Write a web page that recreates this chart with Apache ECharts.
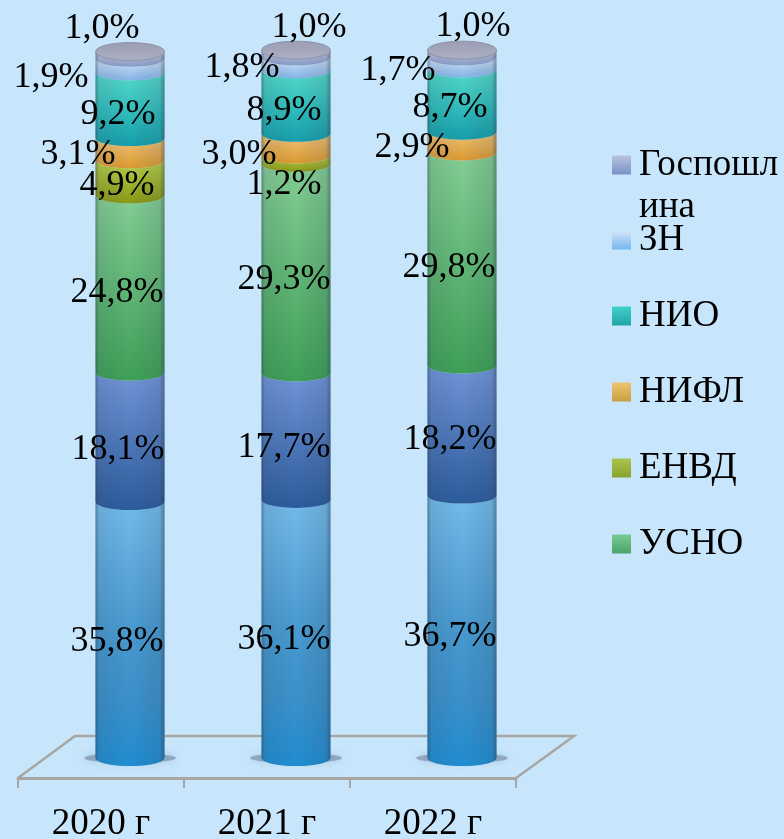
<!DOCTYPE html>
<html>
<head>
<meta charset="utf-8">
<style>
  html, body { margin: 0; padding: 0; background: #c7e6fc; }
  #chart { width: 784px; height: 839px; }
</style>
<script src="https://cdn.jsdelivr.net/npm/echarts@6/dist/echarts.min.js"></script>
</head>
<body>
<div id="chart"></div>
<script>
const years = ['2020 г', '2021 г', '2022 г'];

// снизу вверх; у двух нижних рядов в легенде подписи нет
const seriesNames = ['Ряд 1', 'Ряд 2', 'УСНО', 'ЕНВД', 'НИФЛ', 'НИО', 'ЗН', 'Госпошлина'];
const row1 = [35.8, 36.1, 36.7];
const row2 = [18.1, 17.7, 18.2];
const usno = [24.8, 29.3, 29.8];
const envd = [4.9, 1.2, null];
const nifl = [3.1, 3.0, 2.9];
const nio = [9.2, 8.9, 8.7];
const zn = [1.9, 1.8, 1.7];
const gosp = [1.0, 1.0, 1.0];
const rows = [row1, row2, usno, envd, nifl, nio, zn, gosp];

// цвет сегмента сверху вниз
const segColors = [
  ['#74bfee', '#5eabe0', '#479bd2', '#3c92cd', '#1f8fd4'],
  ['#7297dc', '#2c5c9e'],
  ['#86d196', '#3ea257'],
  ['#bcd64c', '#8b9a14'],
  ['#f2c677', '#e09c30'],
  ['#57dccb', '#33c2c0', '#16a0ac'],
  ['#d8eafc', '#86b6ea'],
  ['#c8d1ea', '#8c9dca']
];
const legendColors = [
  null,
  null,
  ['#78c992', '#4ca46b'],
  ['#abc44e', '#86a42d'],
  ['#edc66e', '#c89f3f'],
  ['#42d1c9', '#1ea5a6'],
  ['#d3e5f8', '#76b7ee'],
  ['#b8c2de', '#7a92c7']
];

// ручные смещения подписей от середины сегмента, [dx, dy] по годам
const labelShift = [
  [[-13, 12], [-12, 11], [-12, 10]],
  [[-12, 12], [-12, 11], [-12, 9]],
  [[-13, 9], [-12, 11], [-13, 9]],
  [[-13, 8], [-12, 25], [0, 0]],
  [[-52, 5], [-57, 10], [-50, 6]],
  [[-12, 9], [-12, 9], [-12, 7]],
  [[-79, 12], [-54, 4], [-64, 7]],
  [[-28, -27], [13, -26], [11, -27]]
];

const FONT = '"Liberation Serif", "Times New Roman", serif';
const barRatio = 69 / 166;
const ry = 8;

const vGrad = (c) => ({
  type: 'linear', x: 0, y: 0, x2: 0, y2: 1,
  colorStops: c.map((color, i) => ({ offset: i / (c.length - 1), color }))
});
const sideShade = {
  type: 'linear', x: 0, y: 0, x2: 1, y2: 0,
  colorStops: [
    { offset: 0, color: 'rgba(45,60,80,0.5)' },
    { offset: 0.05, color: 'rgba(45,60,80,0.14)' },
    { offset: 0.5, color: 'rgba(45,60,80,0.02)' },
    { offset: 0.93, color: 'rgba(45,60,80,0.16)' },
    { offset: 1, color: 'rgba(45,60,80,0.5)' }
  ]
};

const fmt = (v) => v.toFixed(1).replace('.', ',') + '%';

const makeRender = (s) => (params, api) => {
  const cat = api.value(0);
  const start = api.coord([cat, api.value(1)]);
  const end = api.coord([cat, api.value(2)]);
  const w = api.size([1, 0])[0] * barRatio;
  const cx = start[0];
  const xl = cx - w / 2;
  const xr = cx + w / 2;
  const rx = w / 2;
  const d = `M${xl} ${end[1]} A${rx} ${ry} 0 0 0 ${xr} ${end[1]} L${xr} ${start[1]} A${rx} ${ry} 0 0 1 ${xl} ${start[1]} Z`;
  const box = { x: xl, y: end[1], width: w, height: start[1] - end[1] + ry };
  const children = [];
  if (s === 0) {
    // тень на полу
    children.push({
      type: 'path',
      shape: { pathData: `M${cx - 46} ${start[1]} A46 5 0 1 0 ${cx + 46} ${start[1]} A46 5 0 1 0 ${cx - 46} ${start[1]} Z`, x: cx - 46, y: start[1] - 5, width: 92, height: 10 },
      style: { fill: 'rgba(90,105,135,0.45)', shadowBlur: 8, shadowColor: 'rgba(90,105,135,0.6)' }
    });
  }
  children.push({ type: 'path', shape: { pathData: d, ...box }, style: { fill: vGrad(segColors[s]) } });
  children.push({ type: 'path', shape: { pathData: d, ...box }, style: { fill: sideShade } });
  if (s === rows.length - 1) {
    children.push({
      type: 'path',
      shape: { pathData: `M${xl} ${end[1]} A${rx} 9 0 1 1 ${xr} ${end[1]} A${rx} 9 0 1 1 ${xl} ${end[1]} Z`, x: xl, y: end[1] - 9, width: w, height: 18 },
      style: { fill: vGrad(['#9a9db2', '#aeb1c4']), stroke: '#8f93a8', lineWidth: 1 }
    });
  }
  const shift = labelShift[s][cat];
  children.push({
    type: 'text',
    z2: 100,
    style: {
      x: cx + shift[0],
      y: (start[1] + end[1]) / 2 + shift[1],
      text: fmt(api.value(3)),
      font: `36px ${FONT}`,
      fill: '#000',
      align: 'center',
      verticalAlign: 'middle'
    }
  });
  return { type: 'group', children };
};

const series = rows.map((vals, s) => ({
  name: seriesNames[s],
  type: 'custom',
  xAxisIndex: 0,
  yAxisIndex: 0,
  renderItem: makeRender(s),
  itemStyle: { color: vGrad(legendColors[s] || segColors[s]) },
  encode: { x: 0, y: [1, 2] },
  clip: false,
  data: vals
    .map((v, i) => {
      if (v == null) return null;
      let base = 0;
      for (let k = 0; k < s; k++) base += rows[k][i] || 0;
      return [i, base, base + v, v];
    })
    .filter(Boolean)
}));

const legendText = { fontFamily: FONT, fontSize: 37, color: '#000', lineHeight: 42, padding: [0, 0, 0, 3] };

const chart = echarts.init(document.getElementById('chart'), null, { renderer: 'canvas' });
chart.setOption({
  backgroundColor: '#c7e6fc',
  animation: false,
  tooltip: { show: false },
  legend: [
    {
      data: ['Госпошлина'],
      orient: 'vertical',
      left: 612,
      top: 102,
      padding: 0,
      icon: 'rect',
      itemWidth: 19,
      itemHeight: 19,
      selectedMode: false,
      // пустая первая строка держит маркер напротив "Госпошл"
      formatter: () => '\nГоспошл\nина',
      textStyle: legendText
    },
    {
      data: ['ЗН', 'НИО', 'НИФЛ', 'ЕНВД', 'УСНО'],
      orient: 'vertical',
      left: 612,
      top: 219,
      padding: 0,
      icon: 'rect',
      itemWidth: 19,
      itemHeight: 19,
      itemGap: 34,
      selectedMode: false,
      textStyle: legendText
    }
  ],
  grid: [
    { left: 47, top: 43, width: 498, height: 715, outerBoundsMode: 'none' },
    { left: 18, bottom: 61, width: 498, height: 100, outerBoundsMode: 'none' }
  ],
  xAxis: [
    { type: 'category', gridIndex: 0, data: years, show: false },
    {
      type: 'category',
      gridIndex: 1,
      data: years,
      axisLine: { lineStyle: { color: '#a8a6a3', width: 3 } },
      axisTick: { show: true, length: 10, alignWithLabel: false, lineStyle: { color: '#a8a6a3', width: 2 } },
      axisLabel: { fontFamily: FONT, fontSize: 37, color: '#000', margin: 28 }
    }
  ],
  yAxis: [
    { type: 'value', gridIndex: 0, min: 0, max: 100, show: false },
    { type: 'value', gridIndex: 1, min: 0, max: 1, show: false }
  ],
  graphic: [
    {
      type: 'polyline',
      z: 0,
      silent: true,
      shape: { points: [[18, 778], [75, 736], [574, 736], [516, 778]] },
      style: { stroke: '#a8a6a3', lineWidth: 2.5, fill: null }
    }
  ],
  series
});
</script>
</body>
</html>
